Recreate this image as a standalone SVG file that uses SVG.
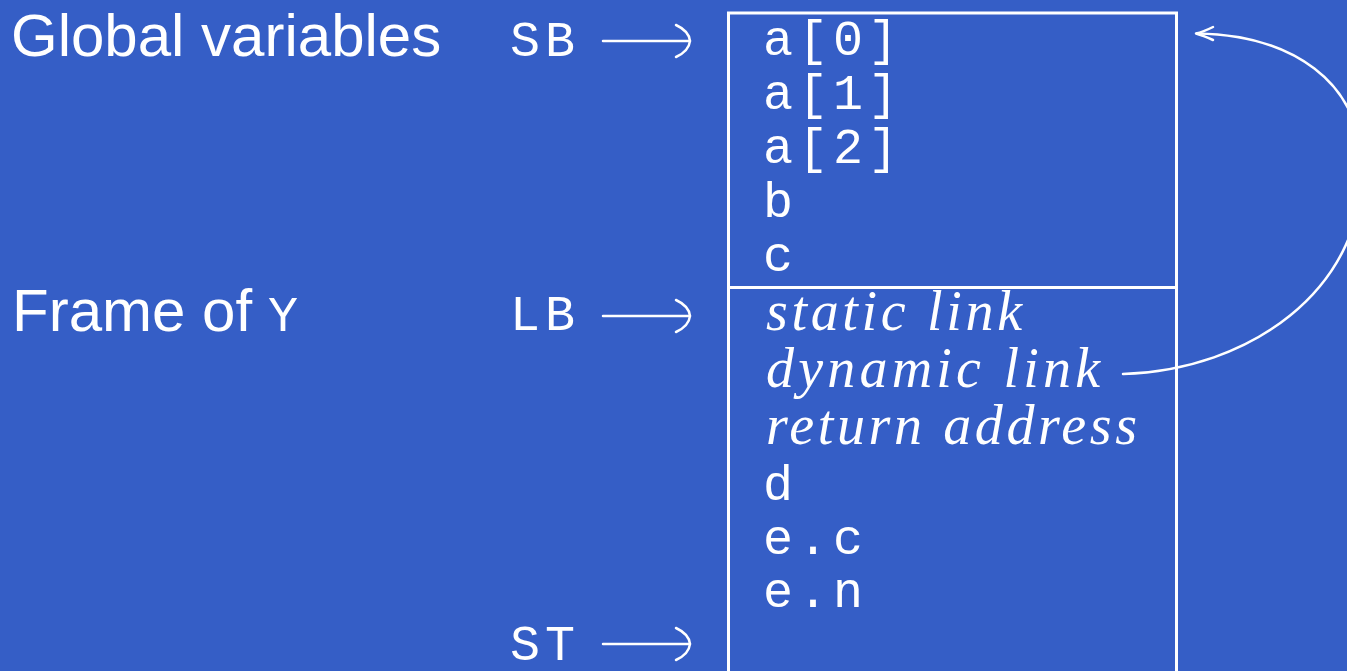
<svg xmlns="http://www.w3.org/2000/svg" width="1347" height="671" viewBox="0 0 1347 671">
  <style>
    .sans { font-family: "Liberation Sans", Arial, sans-serif; font-size: 60px; fill: #ffffff; }
    .mono { font-family: "Liberation Mono", "Courier New", monospace; font-size: 50px; fill: #ffffff; letter-spacing: 5px; }
    .ital { font-family: "Liberation Serif", "Times New Roman", serif; font-style: italic; font-size: 56px; fill: #ffffff; }
    .ln { fill: none; stroke: #ffffff; stroke-width: 2.5; stroke-linecap: round; stroke-linejoin: round; }
    .frame { fill: none; stroke: #ffffff; stroke-width: 3; }
  </style>
  <defs>
    <!-- long arrow "⟶" used for the stack registers -->
    <g id="longarrow">
      <path class="ln" d="M603,0 H690"/>
      <path class="ln" d="M676,-16 Q689,-10 690,0 Q689,10 676,16"/>
    </g>
  </defs>

  <rect x="0" y="0" width="1347" height="671" fill="#355EC6"/>

  <!-- section labels -->
  <g id="label-globals">
    <text class="sans" x="11" y="56">Global variables</text>
  </g>
  <g id="label-frame">
    <text class="sans" x="12" y="331">Frame of</text>
    <text class="mono" x="268" y="331">Y</text>
  </g>

  <!-- register pointers -->
  <g id="reg-sb">
    <text class="mono" x="510" y="56">SB</text>
    <use href="#longarrow" y="41"/>
  </g>
  <g id="reg-lb">
    <text class="mono" x="510" y="330">LB</text>
    <use href="#longarrow" y="316"/>
  </g>
  <g id="reg-st">
    <text class="mono" x="510" y="660">ST</text>
    <use href="#longarrow" y="644"/>
  </g>

  <!-- stack memory -->
  <g id="stack">
    <rect class="frame" x="728.5" y="13" width="448" height="700"/>
    <line class="frame" x1="728.5" y1="287.5" x2="1176.5" y2="287.5"/>
  </g>
  <g id="globals">
    <text class="mono" x="763" y="55">a[0]</text>
    <text class="mono" x="763" y="109">a[1]</text>
    <text class="mono" x="763" y="163">a[2]</text>
    <text class="mono" x="763" y="217">b</text>
    <text class="mono" x="763" y="271">c</text>
  </g>
  <g id="frame-y">
    <text class="ital" x="766" y="330" textLength="256" lengthAdjust="spacing">static link</text>
    <text class="ital" x="766" y="387" textLength="334" lengthAdjust="spacing">dynamic link</text>
    <text class="ital" x="766" y="444" textLength="371" lengthAdjust="spacing">return address</text>
    <text class="mono" x="763" y="500">d</text>
    <text class="mono" x="763" y="554">e.c</text>
    <text class="mono" x="763" y="607">e.n</text>
  </g>

  <!-- dynamic link back to the start of the stack -->
  <g id="connectors">
    <path class="ln" d="M1123,374 C1250,370 1362,290 1362,170 C1362,80 1290,35 1197,33.5"/>
    <path class="ln" d="M1213,27 Q1203,32 1196,33.5 Q1203,35.5 1213,40"/>
  </g>
</svg>
